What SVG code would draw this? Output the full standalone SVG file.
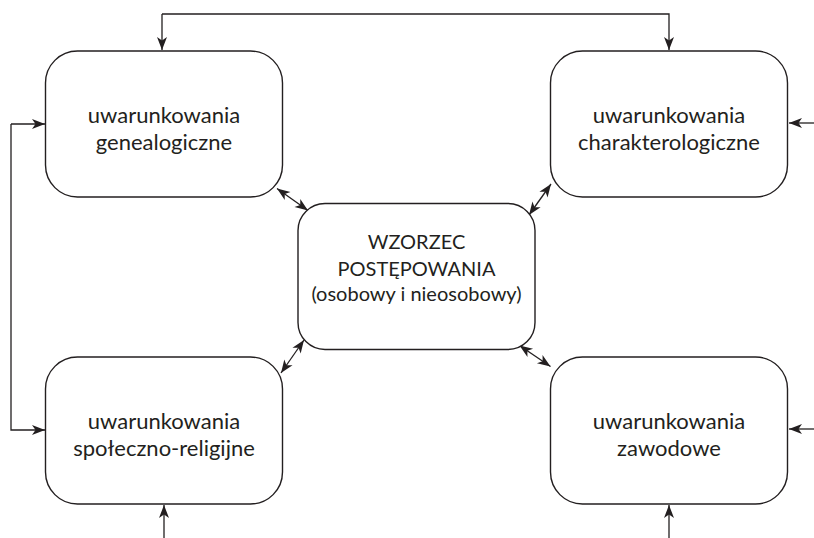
<svg xmlns="http://www.w3.org/2000/svg" width="814" height="538" viewBox="0 0 814 538">
<defs>
<marker id="ah" viewBox="-1 -6 15 12" markerWidth="15" markerHeight="12" refX="13" refY="0" orient="auto-start-reverse" markerUnits="userSpaceOnUse">
<path d="M0,-5 L13,0 L0,5 L3.5,0 Z" fill="#231f20"/>
</marker>
<style>
.box{fill:#fff;stroke:#231f20;stroke-width:1.4}
.lbl{font-family:Lato,"Open Sans","Liberation Sans",sans-serif;font-size:22px;fill:#231f20;text-anchor:middle}
.mid{font-size:20px}
.con{fill:none;stroke:#231f20;stroke-width:1.3}
.end{marker-end:url(#ah)}
.both{marker-start:url(#ah);marker-end:url(#ah)}
</style>
</defs>
<rect width="814" height="538" fill="#fff"/>
<g id="connectors">
<path class="con end" d="M162,14 V50"/>
<path class="con end" d="M162,14 H669 V50"/>
<path class="con end" d="M11,124 H45"/>
<path class="con end" d="M11,124 V430 H45"/>
<path class="con end" d="M814,123 H789"/>
<path class="con end" d="M814,429 H789"/>
<path class="con end" d="M164,538 V505"/>
<path class="con end" d="M669,538 V505"/>
<path class="con both" d="M277,188.5 L308,210.5"/>
<path class="con both" d="M551,184 L529,215"/>
<path class="con both" d="M304,340 L281,373"/>
<path class="con both" d="M519.5,345.5 L550.5,366.5"/>
</g>
<g id="n-genealogiczne">
<rect class="box" x="45.5" y="51" width="237" height="146" rx="32"/>
<text class="lbl" x="164" y="123">uwarunkowania</text>
<text class="lbl" x="164" y="150">genealogiczne</text>
</g>
<g id="n-charakterologiczne">
<rect class="box" x="550.5" y="51" width="237" height="146" rx="32"/>
<text class="lbl" x="669" y="123">uwarunkowania</text>
<text class="lbl" x="669" y="150">charakterologiczne</text>
</g>
<g id="n-wzorzec">
<rect class="box" x="298" y="203.5" width="237" height="146" rx="27"/>
<text class="lbl mid" x="416.5" y="249">WZORZEC</text>
<text class="lbl mid" x="416.5" y="276">POSTĘPOWANIA</text>
<text class="lbl mid" x="416.5" y="301">(osobowy i nieosobowy)</text>
</g>
<g id="n-spoleczno">
<rect class="box" x="45.5" y="357" width="237" height="147" rx="32"/>
<text class="lbl" x="164" y="429">uwarunkowania</text>
<text class="lbl" x="164" y="456">społeczno-religijne</text>
</g>
<g id="n-zawodowe">
<rect class="box" x="550.5" y="357" width="237" height="147" rx="32"/>
<text class="lbl" x="669" y="429">uwarunkowania</text>
<text class="lbl" x="669" y="456">zawodowe</text>
</g>
</svg>
